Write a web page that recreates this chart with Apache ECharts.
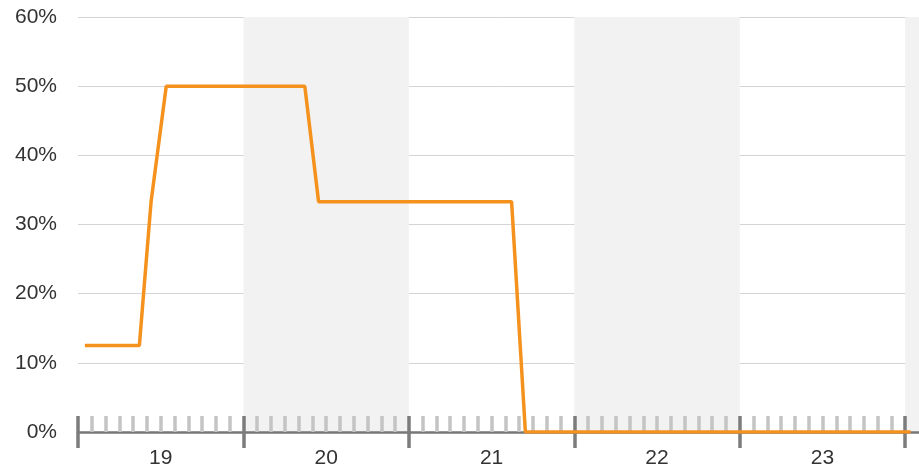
<!DOCTYPE html>
<html>
<head>
<meta charset="utf-8">
<script src="https://cdn.jsdelivr.net/npm/echarts@6/dist/echarts.min.js"></script>
<style>
  html, body { margin: 0; padding: 0; background: #fff; }
  #chart { width: 919px; height: 469px; }
</style>
</head>
<body>
<div id="chart"></div>
<script>
  // hours counted from day 19, 00:00
  const hours = [1, 8.9, 10.6, 12.8, 32.9, 34.9, 62.9, 64.9, 120.8]
  const share = [12.5, 12.5, 33.3, 50, 50, 33.3, 33.3, 0, 0]
  const dayLabels = ['19', '20', '21', '22', '23']
  const axisMax = 122

  const data = hours.map((h, i) => [h, share[i]])
  const dayStarts = []
  const dayMiddles = []
  const twoHours = []
  for (let d = 0; d <= dayLabels.length; d++) {
    dayStarts.push(d * 24)
    if (d < dayLabels.length) {
      dayMiddles.push(d * 24 + 12)
      for (let h = 2; h < 24; h += 2) {
        twoHours.push(d * 24 + h)
      }
    }
  }

  const chart = echarts.init(document.getElementById('chart'))

  const base = {
    type: 'value',
    position: 'bottom',
    min: 0,
    max: axisMax,
    interval: 24,
    axisLine: { show: false },
    axisTick: { show: false },
    axisLabel: { show: false },
    splitLine: { show: false },
  }

  const tickAxis = (values, inside, color) =>
    Object.assign({}, base, {
      axisTick: {
        show: true,
        inside: inside,
        length: 16,
        customValues: values,
        lineStyle: { color: color, width: 3.5 },
      },
    })

  chart.setOption({
    animation: false,
    grid: {
      left: 78,
      right: 0,
      top: 17,
      bottom: 37,
      outerBoundsMode: 'none',
    },
    xAxis: [
      // day bands + axis line
      Object.assign({}, base, {
        axisLine: { show: true, lineStyle: { color: '#777', width: 2.5 } },
        splitArea: { show: true, areaStyle: { color: ['rgba(255,255,255,0)', '#f2f2f2'] } },
      }),
      tickAxis(twoHours, true, '#c4c4c4'),
      tickAxis(dayStarts, true, '#7c7c7c'),
      tickAxis(dayStarts, false, '#7c7c7c'),
      // day labels at the middle of each day
      Object.assign({}, base, {
        axisLabel: {
          show: true,
          margin: 16,
          color: '#333',
          fontSize: 21,
          fontFamily: 'Liberation Sans',
          customValues: dayMiddles,
          formatter: (v) => dayLabels[(v - 12) / 24],
        },
      }),
    ],
    yAxis: {
      type: 'value',
      min: 0,
      max: 60,
      interval: 10,
      axisLine: { show: false },
      axisTick: { show: false },
      axisLabel: {
        margin: 21,
        color: '#333',
        fontSize: 21,
        fontFamily: 'Liberation Sans',
        padding: [3, 0, 0, 0],
        formatter: '{value}%',
      },
      splitLine: { lineStyle: { color: '#d4d4d4', width: 1 } },
    },
    series: [
      {
        type: 'line',
        xAxisIndex: 0,
        showSymbol: false,
        lineStyle: { color: '#f5921e', width: 3.5 },
        itemStyle: { color: '#f5921e' },
        data: data,
      },
    ],
  })
</script>
</body>
</html>
